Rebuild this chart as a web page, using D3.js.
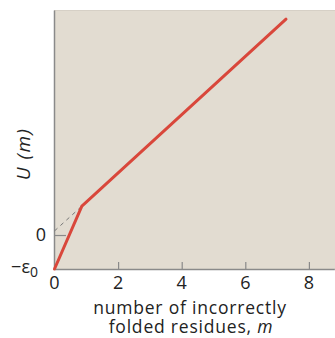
<!DOCTYPE html>
<html>
<head>
<meta charset="utf-8">
<script src="https://cdn.jsdelivr.net/npm/d3@7"></script>
<style>
  body { margin: 0; background: #fff; }
  text { font-family: "Open Sans", "DejaVu Sans", sans-serif; fill: #222; }
</style>
</head>
<body>
<div id="chart"></div>
<script>
// energy U(m) vs number of incorrectly folded residues m (eps0 = 1 unit)
var curveM = [0, 0.86, 7.28];
var curveU = [-1, 0.85, 6.35];
var dashM = [0, 0.86];
var dashU = [0.12, 0.85];
var xTicks = [2, 4, 6, 8];
var xTickLabels = ['0', '2', '4', '6', '8'];
var xLabelPos = [0, 2, 4, 6, 8];

var width = 335, height = 338;
var margin = {left: 54, top: 10, right: 0, bottom: 69};

var svg = d3.select('#chart').append('svg')
		.attr('width', width)
		.attr('height', height);

var x = d3.scaleLinear().domain([0, 8.8]).range([margin.left + 0.5, margin.left + 0.5 + 8.8 * 31.8]);
var y = d3.scaleLinear().domain([-1, 6.62]).range([height - margin.bottom, margin.top]);

// plot background
svg.append('rect')
	.attr('x', margin.left)
	.attr('y', margin.top)
	.attr('width', width - margin.left)
	.attr('height', height - margin.bottom - margin.top)
	.attr('fill', '#e2dcd1');

svg.append('line')
	.attr('x1', margin.left).attr('x2', width)
	.attr('y1', margin.top + 0.5).attr('y2', margin.top + 0.5)
	.attr('stroke', '#d6d0c6');

// x axis, ticks pointing inward
var xAxis = svg.append('g')
	.attr('transform', 'translate(0,' + (height - margin.bottom) + ')')
	.call(d3.axisTop(x).tickValues(xTicks).tickSize(7).tickSizeOuter(0).tickFormat(''));
xAxis.select('.domain').attr('stroke', '#8a8a8a').attr('stroke-width', 1.5);
xAxis.selectAll('.tick line').attr('stroke', '#8a8a8a').attr('stroke-width', 1.2);

svg.selectAll('text.xtick')
	.data(xLabelPos)
	.enter().append('text')
	.attr('class', 'xtick')
	.attr('x', function(d) { return x(d); })
	.attr('y', 289)
	.attr('text-anchor', 'middle')
	.attr('font-size', 18)
	.text(function(d, i) { return xTickLabels[i]; });

// y axis
var yAxis = svg.append('g')
	.attr('transform', 'translate(' + margin.left + ',0)')
	.call(d3.axisRight(y).tickValues([0]).tickSize(12).tickSizeOuter(0).tickFormat(''));
yAxis.select('.domain').attr('stroke', '#8a8a8a').attr('stroke-width', 1.5);
yAxis.selectAll('.tick line').attr('stroke', '#8a8a8a').attr('stroke-width', 1.2);

svg.append('text')
	.attr('x', 46).attr('y', y(0) + 6)
	.attr('text-anchor', 'end')
	.attr('font-size', 18)
	.text('0');

var eps = svg.append('text')
	.attr('x', 38).attr('y', y(-1) + 4)
	.attr('text-anchor', 'end')
	.attr('font-size', 18);
eps.append('tspan').text('\u2212\u03b5');
eps.append('tspan').attr('font-size', 14).attr('dy', 4).text('0');

svg.append('text')
	.attr('transform', 'translate(30,154) rotate(-90)')
	.attr('text-anchor', 'middle')
	.attr('font-size', 19)
	.attr('font-style', 'italic')
	.attr('letter-spacing', 1.5)
	.text('U (m)');

svg.append('text')
	.attr('x', 190).attr('y', 314)
	.attr('text-anchor', 'middle')
	.attr('font-size', 17.5)
	.attr('letter-spacing', 0.8)
	.text('number of incorrectly');

var l2 = svg.append('text')
	.attr('x', 191).attr('y', 333)
	.attr('text-anchor', 'middle')
	.attr('font-size', 17.5)
	.attr('letter-spacing', 0.8);
l2.append('tspan').text('folded residues, ');
l2.append('tspan').attr('font-style', 'italic').text('m');

// dashed extrapolation
var line = d3.line()
	.x(function(d) { return x(d[0]); })
	.y(function(d) { return y(d[1]); });

svg.append('path')
	.datum(d3.zip(dashM, dashU))
	.attr('d', line)
	.attr('fill', 'none')
	.attr('stroke', '#777')
	.attr('stroke-width', 1)
	.attr('stroke-dasharray', '4,4');

svg.append('path')
	.datum(d3.zip(curveM, curveU))
	.attr('d', line)
	.attr('fill', 'none')
	.attr('stroke', '#d9473b')
	.attr('stroke-width', 3)
	.attr('stroke-linecap', 'round');
</script>
</body>
</html>
